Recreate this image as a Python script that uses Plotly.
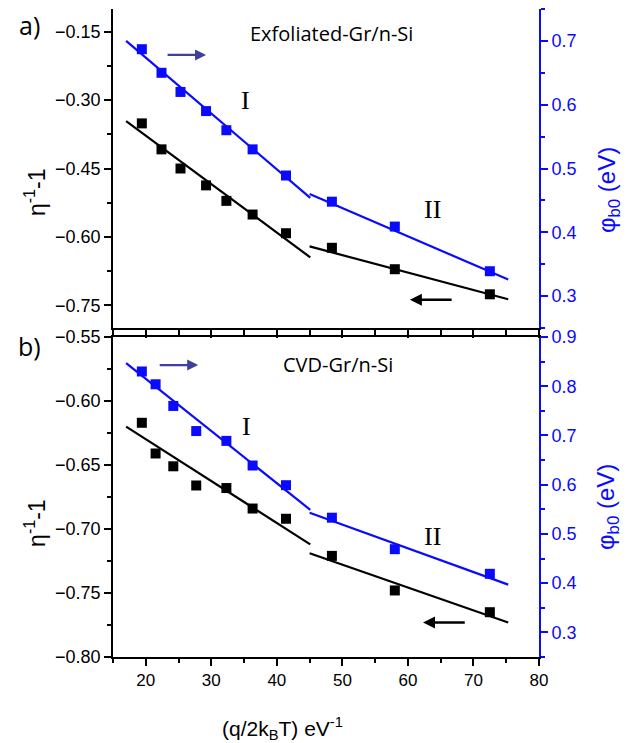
import plotly.graph_objects as go

# ---------------- data ----------------
xa = [19.4, 22.4, 25.3, 29.2, 32.3, 36.3, 41.4, 48.4, 58.0, 72.5]
a_eta = [-0.351, -0.408, -0.450, -0.487, -0.521, -0.551, -0.592, -0.624, -0.671, -0.726]
a_phi = [0.687, 0.650, 0.620, 0.590, 0.560, 0.530, 0.489, 0.448, 0.409, 0.339]

xb = [19.4, 21.5, 24.2, 27.7, 32.3, 36.3, 41.4, 48.4, 58.0, 72.5]
b_eta = [-0.617, -0.641, -0.651, -0.666, -0.668, -0.684, -0.692, -0.721, -0.748, -0.765]
b_phi = [0.830, 0.804, 0.760, 0.709, 0.689, 0.639, 0.599, 0.533, 0.469, 0.419]

fit_I_x = [17.0, 45.1]
fit_II_x = [45.0, 75.3]
a_fit_phi_I = [0.700, 0.454]
a_fit_phi_II = [0.460, 0.326]
a_fit_eta_I = [-0.346, -0.645]
a_fit_eta_II = [-0.621, -0.737]
b_fit_phi_I = [0.847, 0.549]
b_fit_phi_II = [0.543, 0.397]
b_fit_eta_I = [-0.620, -0.712]
b_fit_eta_II = [-0.719, -0.773]

BLUE = "#0a0aff"
ARROW_BLUE = "#3f3f9c"
FONT = "Liberation Sans, Arial, sans-serif"
SANS2 = "Open Sans, Noto Sans, sans-serif"
SERIF = "Liberation Serif, Times New Roman, serif"

fig = go.Figure()

def line(x, y, xa_, ya_, color):
    fig.add_trace(go.Scatter(x=x, y=y, mode="lines", xaxis=xa_, yaxis=ya_,
                             line=dict(color=color, width=2.2), showlegend=False,
                             hoverinfo="skip"))

def pts(x, y, xa_, ya_, color):
    fig.add_trace(go.Scatter(x=x, y=y, mode="markers", xaxis=xa_, yaxis=ya_,
                             marker=dict(symbol="square", size=10, color=color, line=dict(width=0)),
                             showlegend=False))

# panel a (x2 / y3 left, y4 right)
line(fit_I_x, a_fit_eta_I, "x2", "y3", "black")
line(fit_II_x, a_fit_eta_II, "x2", "y3", "black")
pts(xa, a_eta, "x2", "y3", "black")
line(fit_I_x, a_fit_phi_I, "x2", "y4", BLUE)
line(fit_II_x, a_fit_phi_II, "x2", "y4", BLUE)
pts(xa, a_phi, "x2", "y4", BLUE)

# panel b (x / y left, y2 right)
line(fit_I_x, b_fit_eta_I, "x", "y", "black")
line(fit_II_x, b_fit_eta_II, "x", "y", "black")
pts(xb, b_eta, "x", "y", "black")
line(fit_I_x, b_fit_phi_I, "x", "y2", BLUE)
line(fit_II_x, b_fit_phi_II, "x", "y2", BLUE)
pts(xb, b_phi, "x", "y2", BLUE)

ytickfont = dict(family=FONT, size=18, color="black")
xtickfont = dict(family=FONT, size=17, color="black")
bluefont = dict(family=FONT, size=18, color=BLUE)
xr = [15, 80]
dom_b = [0, 0.4938]
dom_a = [0.5077, 1]

# page body has an 8px default margin, so the figure is 8px smaller on each axis
fig.update_layout(
    width=633, height=735,
    margin=dict(l=105, r=102, t=1, b=86, autoexpand=False),
    paper_bgcolor="white", plot_bgcolor="white",
    showlegend=False,
    xaxis=dict(domain=[0, 1], anchor="y", range=xr, tick0=0, dtick=10, automargin=False,
               ticks="outside", ticklen=7, tickwidth=1.5, tickcolor="black",
               minor=dict(dtick=5, ticks="outside", ticklen=4, tickwidth=1.5, tickcolor="black"),
               showline=True, linecolor="black", linewidth=1.8, mirror=True,
               showgrid=False, zeroline=False, tickfont=xtickfont),
    xaxis2=dict(domain=[0, 1], anchor="y3", range=xr, tick0=0, dtick=10, automargin=False,
                ticks="outside", ticklen=8, tickwidth=1.5, tickcolor="black",
                minor=dict(dtick=5, ticks="outside", ticklen=5, tickwidth=1.5, tickcolor="black"),
                showticklabels=False, showline=True, linecolor="black", linewidth=1.8,
                showgrid=False, zeroline=False),
    xaxis3=dict(overlaying="x2", anchor="y3", side="top", range=xr, tick0=0, dtick=5, automargin=False,
                ticks="inside", ticklen=5, tickwidth=1.5, tickcolor="black",
                showticklabels=False, showline=True, linecolor="black", linewidth=1.8,
                showgrid=False, zeroline=False),
    yaxis=dict(domain=dom_b, anchor="x", range=[-0.8, -0.55], tick0=-0.8, dtick=0.05, automargin=False,
               tickformat=".2f", ticks="outside", ticklen=7, tickwidth=1.5, tickcolor="black",
               minor=dict(dtick=0.025, ticks="outside", ticklen=4, tickwidth=1.5, tickcolor="black"),
               showline=True, linecolor="black", linewidth=1.8, showgrid=False,
               zeroline=False, tickfont=ytickfont),
    yaxis2=dict(overlaying="y", anchor="x", side="right", range=[0.25, 0.9], tick0=0.3, dtick=0.1,
                automargin=False,
                tickformat=".1f", ticks="outside", ticklen=7, tickwidth=1.5, tickcolor=BLUE,
                minor=dict(dtick=0.05, ticks="outside", ticklen=4, tickwidth=1.5, tickcolor=BLUE),
                showline=True, linecolor=BLUE, linewidth=1.8, showgrid=False,
                zeroline=False, tickfont=bluefont),
    yaxis3=dict(domain=dom_a, anchor="x2", range=[-0.8, -0.1], tick0=-0.15, dtick=0.15,
                automargin=False,
                tickformat=".2f", ticks="outside", ticklen=7, tickwidth=1.5, tickcolor="black",
                minor=dict(tick0=-0.15, dtick=0.075, ticks="outside", ticklen=4, tickwidth=1.5, tickcolor="black"),
                showline=True, linecolor="black", linewidth=1.8, showgrid=False,
                zeroline=False, tickfont=ytickfont),
    yaxis4=dict(overlaying="y3", anchor="x2", side="right", range=[0.25, 0.75], tick0=0.3, dtick=0.1,
                automargin=False,
                tickformat=".1f", ticks="outside", ticklen=7, tickwidth=1.5, tickcolor=BLUE,
                minor=dict(dtick=0.05, ticks="outside", ticklen=4, tickwidth=1.5, tickcolor=BLUE),
                showline=True, linecolor=BLUE, linewidth=1.8, showgrid=False,
                zeroline=False, tickfont=bluefont),
)

C = dict(xanchor="center", yanchor="middle", showarrow=False)
ann = []
# titles
ann.append(dict(text="(q/2k<sub>B</sub>T) eV<sup>-1</sup>", xref="paper", yref="paper",
                x=0.399, y=-0.1096, font=dict(family=FONT, size=21, color="black"), **C))
for yc in [0.7176, 0.207]:
    ann.append(dict(text="η<sup>-1</sup>-1", xref="paper", yref="paper", x=-0.183, y=yc,
                    textangle=-90, font=dict(family=FONT, size=23, color="black"), **C))
for yc in [0.7206, 0.2315]:
    ann.append(dict(text="φ<sub>b0</sub> (eV)", xref="paper", yref="paper", x=1.162, y=yc,
                    textangle=-90, font=dict(family=FONT, size=24, color=BLUE), **C))
# panel labels
ann.append(dict(text="a)", xref="paper", yref="paper", x=(29 - 113) / 426, y=(657 - 25) / 648,
                borderpad=0, font=dict(family=SANS2, size=25, color="black"), **C))
ann.append(dict(text="b)", xref="paper", yref="paper", x=(29 - 113) / 426, y=(657 - 346) / 648,
                borderpad=0, font=dict(family=SANS2, size=25, color="black"), **C))
# sample names
ann.append(dict(text="Exfoliated-Gr/n-Si", xref="x2", yref="y4", x=48.4, y=0.712,
                font=dict(family=SANS2, size=20, color="black"), **C))
ann.append(dict(text="CVD-Gr/n-Si", xref="x", yref="y2", x=49.4, y=0.845,
                font=dict(family=SANS2, size=20, color="black"), **C))
# regime labels
ann.append(dict(text="I", xref="x2", yref="y4", x=35.2, y=0.606,
                font=dict(family=SERIF, size=26, color="black"), **C))
ann.append(dict(text="II", xref="x2", yref="y4", x=63.8, y=0.435,
                font=dict(family=SERIF, size=26, color="black"), **C))
ann.append(dict(text="I", xref="x", yref="y2", x=35.3, y=0.719,
                font=dict(family=SERIF, size=26, color="black"), **C))
ann.append(dict(text="II", xref="x", yref="y2", x=63.8, y=0.495,
                font=dict(family=SERIF, size=26, color="black"), **C))
# arrows
ann.append(dict(x=29.2, y=0.678, ax=23.1, ay=0.678, xref="x2", yref="y4", axref="x2", ayref="y4",
                text="", showarrow=True, arrowhead=2, arrowsize=1, arrowwidth=2.2, arrowcolor=ARROW_BLUE))
ann.append(dict(x=60.3, y=-0.738, ax=66.9, ay=-0.738, xref="x2", yref="y3", axref="x2", ayref="y3",
                text="", showarrow=True, arrowhead=2, arrowsize=1, arrowwidth=2.4, arrowcolor="black"))
ann.append(dict(x=28.0, y=0.843, ax=21.9, ay=0.843, xref="x", yref="y2", axref="x", ayref="y2",
                text="", showarrow=True, arrowhead=2, arrowsize=1, arrowwidth=2.2, arrowcolor=ARROW_BLUE))
ann.append(dict(x=62.3, y=-0.773, ax=68.9, ay=-0.773, xref="x", yref="y", axref="x", ayref="y",
                text="", showarrow=True, arrowhead=2, arrowsize=1, arrowwidth=2.4, arrowcolor="black"))
fig.update_layout(annotations=ann)

fig.write_html("out.html")
